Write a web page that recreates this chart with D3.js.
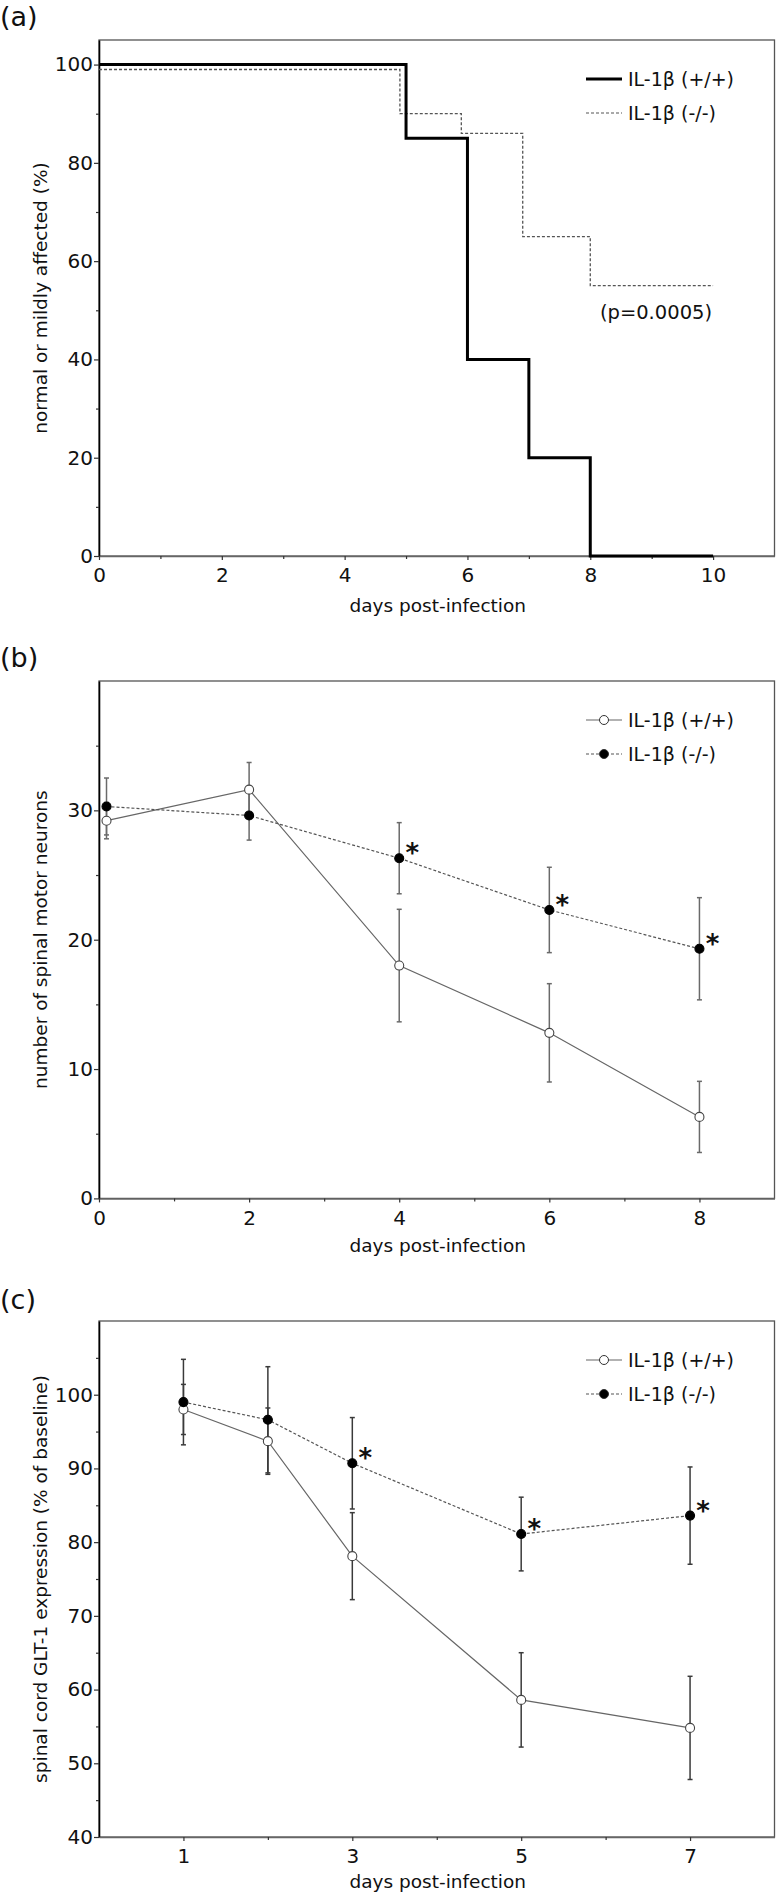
<!DOCTYPE html>
<html><head><meta charset="utf-8">
<script src="https://cdn.jsdelivr.net/npm/d3@7"></script>
<style>
body{margin:0;background:#fff}
svg text{font-family:"DejaVu Sans",sans-serif;fill:#111}
</style>
</head><body>
<svg id="chart" width="776" height="1895"></svg>
<script>
// ---------- DATA ----------
// (a) survival-type step curves
const survDaysWT = [0, 5, 6, 7, 8, 10];
const survWT     = [100, 85, 40, 20, 0, 0];
const survDaysKO = [0, 4.9, 5.9, 6.9, 8, 10];
const survKO     = [99, 90, 86, 65, 55, 55];
const pValueText = "(p=0.0005)";

// (b) spinal motor neurons
const neuronDays  = [0.1, 2, 4, 6, 8];
const neuronWT    = [29.2, 31.6, 18.0, 12.8, 6.3];
const neuronWTErr = [1.4, 2.1, 4.35, 3.8, 2.75];
const neuronKO    = [30.3, 29.6, 26.3, 22.3, 19.3];
const neuronKOErr = [2.2, 1.9, 2.75, 3.3, 3.95];
const neuronStar  = [false, false, true, true, true];

// (c) GLT-1 expression
const gltDays  = [1, 2, 3, 5, 7];
const gltWT    = [98.0, 93.7, 78.1, 58.6, 54.8];
const gltWTErr = [3.4, 4.5, 5.9, 6.4, 7.0];
const gltKO    = [99.0, 96.6, 90.7, 81.1, 83.6];
const gltKOErr = [5.8, 7.2, 6.2, 5.0, 6.6];
const gltStar  = [false, false, true, true, true];

// tick labels
const aXTicks = [0, 2, 4, 6, 8, 10], aXMinor = [1, 3, 5, 7, 9];
const aYTicks = [0, 20, 40, 60, 80, 100], aYMinor = [10, 30, 50, 70, 90];
const bXTicks = [0, 2, 4, 6, 8], bXMinor = [1, 3, 5, 7];
const bYTicks = [0, 10, 20, 30], bYMinor = [5, 15, 25, 35];
const cXTicks = [1, 3, 5, 7], cXMinor = [2, 4, 6];
const cYTicks = [40, 50, 60, 70, 80, 90, 100], cYMinor = [45, 55, 65, 75, 85, 95, 105];

const legendWT = "IL-1\u03b2 (+/+)";
const legendKO = "IL-1\u03b2 (-/-)";
const xTitle = "days post-infection";

// ---------- DRAW ----------
const svg = d3.select("#chart");
const L = 99, R = 774.5;

function makePanel(cfg) {
  const g = svg.append("g");
  const x = d3.scaleLinear().domain(cfg.xDomain).range([L, R]);
  const y = d3.scaleLinear().domain(cfg.yDomain).range([cfg.bottom, cfg.top]);

  g.append("rect").attr("x", L).attr("y", cfg.top)
    .attr("width", R - L).attr("height", cfg.bottom - cfg.top)
    .attr("fill", "none").attr("stroke", "#555").attr("stroke-width", 1.3);

  const ya = g.append("g").attr("transform", `translate(${L},0)`)
    .call(d3.axisLeft(y).tickValues(cfg.yTicks).tickSize(5).tickSizeOuter(0).tickPadding(1));
  const yam = g.append("g").attr("transform", `translate(${L},0)`)
    .call(d3.axisLeft(y).tickValues(cfg.yMinor).tickSize(3).tickSizeOuter(0).tickFormat(""));
  const xa = g.append("g").attr("transform", `translate(0,${cfg.bottom})`)
    .call(d3.axisBottom(x).tickValues(cfg.xTicks).tickSize(4).tickSizeOuter(0).tickPadding(8));
  const xam = g.append("g").attr("transform", `translate(0,${cfg.bottom})`)
    .call(d3.axisBottom(x).tickValues(cfg.xMinor).tickSize(3).tickSizeOuter(0).tickFormat(""));
  [ya, yam, xa, xam].forEach(a => {
    a.attr("font-family", null).attr("font-size", 20);
    a.selectAll("text").style("fill", "#111");
    a.selectAll(".tick line").attr("stroke", "#333").attr("stroke-width", 1.2);
  });
  [yam, xam].forEach(a => a.select(".domain").remove());
  ya.select(".domain").attr("stroke", "#000").attr("stroke-width", 1.6);
  xa.select(".domain").attr("stroke", "#666").attr("stroke-width", 1.5);

  svg.append("text").attr("x", (L + R) / 2 + 1).attr("y", cfg.bottom + cfg.xTitleOff)
    .attr("text-anchor", "middle").attr("font-size", 18.5).text(xTitle);
  svg.append("text")
    .attr("transform", `translate(47,${(cfg.top + cfg.bottom) / 2}) rotate(-90)`)
    .attr("text-anchor", "middle").attr("font-size", 18.5).text(cfg.yTitle);
  svg.append("text").attr("x", 0).attr("y", cfg.labelY)
    .attr("font-size", 27).text(cfg.label);
  return {g, x, y, errColor: cfg.errColor};
}

function legend(g, top, kind) {
  const rows = [
    {t: legendWT, y: top + 39, dash: null, fill: "#fff", color: kind === "step" ? "#000" : "#666", w: kind === "step" ? 3 : 1.2},
    {t: legendKO, y: top + 73, dash: "3,2", fill: "#000", color: "#555", w: 1.2}
  ];
  rows.forEach(r => {
    g.append("line").attr("x1", 586).attr("x2", 622).attr("y1", r.y).attr("y2", r.y)
      .attr("stroke", r.color).attr("stroke-width", r.w).attr("stroke-dasharray", r.dash);
    if (kind === "marker") {
      g.append("circle").attr("cx", 604).attr("cy", r.y).attr("r", 4.5)
        .attr("fill", r.fill).attr("stroke", "#333").attr("stroke-width", 1);
    }
    g.append("text").attr("x", 628).attr("y", r.y + 7).attr("font-size", 19).text(r.t);
  });
}

function errorSeries(p, days, vals, errs, stars) {
  const {g, x, y} = p;
  const data = days.map((d, i) => ({d, v: vals[i], e: errs[i], s: stars ? stars[i] : false}));
  const eb = g.append("g").attr("stroke", p.errColor).attr("stroke-width", 1.5);
  data.forEach(o => {
    eb.append("line").attr("x1", x(o.d)).attr("x2", x(o.d)).attr("y1", y(o.v - o.e)).attr("y2", y(o.v + o.e));
    [o.v - o.e, o.v + o.e].forEach(v => eb.append("line")
      .attr("x1", x(o.d) - 2.5).attr("x2", x(o.d) + 2.5).attr("y1", y(v)).attr("y2", y(v)));
  });
  return data;
}

function drawLineAndMarkers(p, data, open, dashed) {
  const {g, x, y} = p;
  g.append("path").datum(data)
    .attr("d", d3.line().x(o => x(o.d)).y(o => y(o.v)))
    .attr("fill", "none").attr("stroke", dashed ? "#555" : "#666")
    .attr("stroke-width", 1.2).attr("stroke-dasharray", dashed ? "3,2" : null);
  return () => {
    data.forEach(o => {
      g.append("circle").attr("cx", x(o.d)).attr("cy", y(o.v)).attr("r", 4.5)
        .attr("fill", open ? "#fff" : "#000").attr("stroke", open ? "#444" : "#000").attr("stroke-width", 1.1);
      if (o.s) {
        g.append("text").attr("x", x(o.d) + 13).attr("y", y(o.v) + 4)
          .attr("text-anchor", "middle").attr("font-size", 26).attr("font-weight", "bold").text("*");
      }
    });
  };
}

// ----- Panel (a) -----
const pa = makePanel({
  xDomain: [0, 11], yDomain: [0, 105], top: 40, bottom: 556,
  xTicks: aXTicks, xMinor: aXMinor, yTicks: aYTicks, yMinor: aYMinor,
  yTitle: "normal or mildly affected (%)", label: "(a)", labelY: 26, xTitleOff: 56, errColor: "#666"
});
const stepLine = d3.line().curve(d3.curveStepAfter).x(d => pa.x(d[0])).y(d => pa.y(d[1]));
pa.g.append("path").datum(survDaysKO.map((d, i) => [d, survKO[i]]))
  .attr("d", stepLine).attr("fill", "none").attr("stroke", "#555")
  .attr("stroke-width", 1.3).attr("stroke-dasharray", "3,2");
pa.g.append("path").datum(survDaysWT.map((d, i) => [d, survWT[i]]))
  .attr("d", stepLine).attr("fill", "none").attr("stroke", "#000").attr("stroke-width", 3);
pa.g.append("text").attr("x", pa.x(9.07)).attr("y", pa.y(49.7) + 7)
  .attr("text-anchor", "middle").attr("font-size", 19.5).text(pValueText);
legend(pa.g, 40, "step");

// ----- Panel (b) -----
const pb = makePanel({
  xDomain: [0, 9], yDomain: [0, 40], top: 681, bottom: 1198.4,
  xTicks: bXTicks, xMinor: bXMinor, yTicks: bYTicks, yMinor: bYMinor,
  yTitle: "number of spinal motor neurons", label: "(b)", labelY: 667, xTitleOff: 54, errColor: "#6a6a6a"
});
const bWT = errorSeries(pb, neuronDays, neuronWT, neuronWTErr, null);
const bKO = errorSeries(pb, neuronDays, neuronKO, neuronKOErr, neuronStar);
const bm1 = drawLineAndMarkers(pb, bWT, true, false);
const bm2 = drawLineAndMarkers(pb, bKO, false, true);
bm1(); bm2();
legend(pb.g, 681, "marker");

// ----- Panel (c) -----
const pc = makePanel({
  xDomain: [0, 8], yDomain: [40, 110], top: 1321, bottom: 1837,
  xTicks: cXTicks, xMinor: cXMinor, yTicks: cYTicks, yMinor: cYMinor,
  yTitle: "spinal cord GLT-1  expression (% of baseline)", label: "(c)", labelY: 1309, xTitleOff: 51, errColor: "#3a3a3a"
});
const cWT = errorSeries(pc, gltDays, gltWT, gltWTErr, null);
const cKO = errorSeries(pc, gltDays, gltKO, gltKOErr, gltStar);
const cm1 = drawLineAndMarkers(pc, cWT, true, false);
const cm2 = drawLineAndMarkers(pc, cKO, false, true);
cm1(); cm2();
legend(pc.g, 1321, "marker");
</script>
</body></html>
